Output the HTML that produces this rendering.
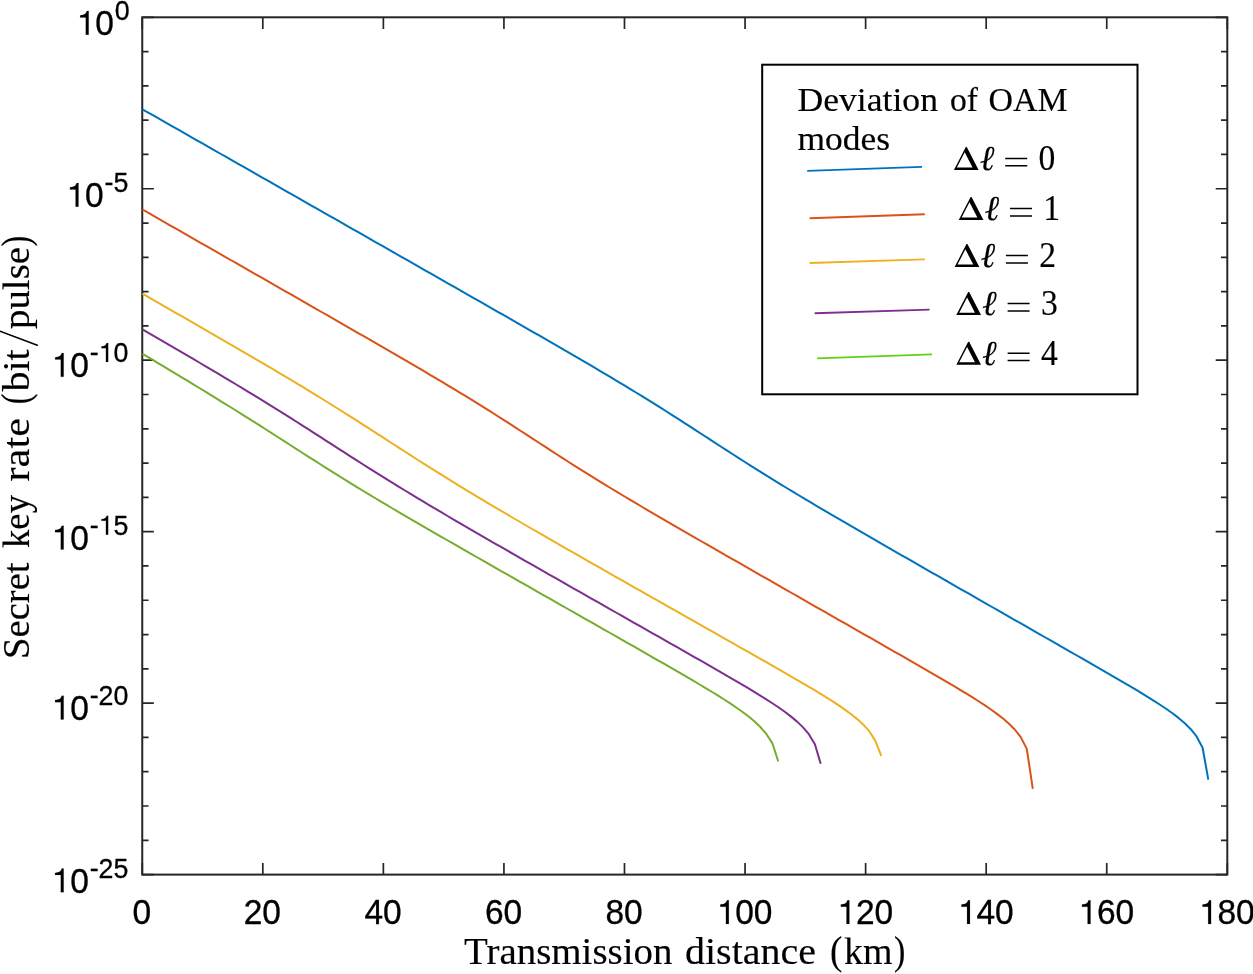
<!DOCTYPE html>
<html><head><meta charset="utf-8"><title>Secret key rate vs transmission distance</title>
<style>html,body{margin:0;padding:0;background:#fff}svg{display:block;will-change:transform}text{font-family:"Liberation Sans",sans-serif;fill:#000;stroke:#000;stroke-width:.3px}.s{font-family:"Liberation Serif",serif;fill:#000;stroke-width:.15px}</style></head><body>
<svg width="1253" height="974" viewBox="0 0 1253 974">
<rect width="1253" height="974" fill="#fff"/>
<path d="M142.25 874.60v-11.60M142.25 17.30v11.60M262.81 874.60v-11.60M262.81 17.30v11.60M383.37 874.60v-11.60M383.37 17.30v11.60M503.93 874.60v-11.60M503.93 17.30v11.60M624.49 874.60v-11.60M624.49 17.30v11.60M745.06 874.60v-11.60M745.06 17.30v11.60M865.62 874.60v-11.60M865.62 17.30v11.60M986.18 874.60v-11.60M986.18 17.30v11.60M1106.74 874.60v-11.60M1106.74 17.30v11.60M1227.30 874.60v-11.60M1227.30 17.30v11.60M142.25 17.30h11.60M1227.30 17.30h-11.60M142.25 51.59h6.30M1227.30 51.59h-6.30M142.25 85.88h6.30M1227.30 85.88h-6.30M142.25 120.18h6.30M1227.30 120.18h-6.30M142.25 154.47h6.30M1227.30 154.47h-6.30M142.25 188.76h11.60M1227.30 188.76h-11.60M142.25 223.05h6.30M1227.30 223.05h-6.30M142.25 257.34h6.30M1227.30 257.34h-6.30M142.25 291.64h6.30M1227.30 291.64h-6.30M142.25 325.93h6.30M1227.30 325.93h-6.30M142.25 360.22h11.60M1227.30 360.22h-11.60M142.25 394.51h6.30M1227.30 394.51h-6.30M142.25 428.80h6.30M1227.30 428.80h-6.30M142.25 463.10h6.30M1227.30 463.10h-6.30M142.25 497.39h6.30M1227.30 497.39h-6.30M142.25 531.68h11.60M1227.30 531.68h-11.60M142.25 565.97h6.30M1227.30 565.97h-6.30M142.25 600.26h6.30M1227.30 600.26h-6.30M142.25 634.56h6.30M1227.30 634.56h-6.30M142.25 668.85h6.30M1227.30 668.85h-6.30M142.25 703.14h11.60M1227.30 703.14h-11.60M142.25 737.43h6.30M1227.30 737.43h-6.30M142.25 771.72h6.30M1227.30 771.72h-6.30M142.25 806.02h6.30M1227.30 806.02h-6.30M142.25 840.31h6.30M1227.30 840.31h-6.30M142.25 874.60h11.60M1227.30 874.60h-11.60" stroke="#262626" stroke-width="1.70" fill="none"/>
<rect x="142.25" y="17.30" width="1085.05" height="857.30" fill="none" stroke="#262626" stroke-width="2.00"/>
<path d="M142.40 109.26 L147.73 112.30 L153.76 115.73 L159.79 119.17 L165.82 122.60 L171.85 126.03 L177.87 129.47 L183.90 132.90 L189.93 136.33 L195.96 139.77 L201.99 143.20 L208.01 146.63 L214.04 150.07 L220.07 153.50 L226.10 156.94 L232.12 160.37 L238.15 163.80 L244.18 167.24 L250.21 170.67 L256.24 174.10 L262.26 177.54 L268.29 180.97 L274.32 184.40 L280.35 187.84 L286.37 191.27 L292.40 194.71 L298.43 198.14 L304.46 201.57 L310.49 205.01 L316.51 208.44 L322.54 211.87 L328.57 215.31 L334.60 218.74 L340.62 222.18 L346.65 225.61 L352.68 229.04 L358.71 232.48 L364.74 235.91 L370.76 239.35 L376.79 242.78 L382.82 246.21 L388.85 249.65 L394.87 253.08 L400.90 256.52 L406.93 259.95 L412.96 263.39 L418.99 266.82 L425.01 270.26 L431.04 273.70 L437.07 277.13 L443.10 280.57 L449.12 284.01 L455.15 287.45 L461.18 290.88 L467.21 294.32 L473.24 297.76 L479.26 301.21 L485.29 304.65 L491.32 308.09 L497.35 311.54 L503.38 314.98 L509.40 318.43 L515.43 321.89 L521.46 325.34 L527.49 328.80 L533.51 332.26 L539.54 335.73 L545.57 339.20 L551.60 342.67 L557.63 346.15 L563.65 349.64 L569.68 353.14 L575.71 356.65 L581.74 360.16 L587.76 363.69 L593.79 367.23 L599.82 370.78 L605.85 374.35 L611.88 377.94 L617.90 381.55 L623.93 385.17 L629.96 388.82 L635.99 392.50 L642.01 396.20 L648.04 399.92 L654.07 403.67 L660.10 407.45 L666.13 411.25 L672.15 415.08 L678.18 418.93 L684.21 422.80 L690.24 426.69 L696.26 430.59 L702.29 434.50 L708.32 438.42 L714.35 442.33 L720.38 446.25 L726.40 450.15 L732.43 454.03 L738.46 457.90 L744.49 461.75 L750.51 465.57 L756.54 469.37 L762.57 473.15 L768.60 476.89 L774.63 480.62 L780.65 484.31 L786.68 487.98 L792.71 491.63 L798.74 495.26 L804.77 498.87 L810.79 502.46 L816.82 506.03 L822.85 509.59 L828.88 513.13 L834.90 516.66 L840.93 520.18 L846.96 523.69 L852.99 527.20 L859.02 530.69 L865.04 534.18 L871.07 537.66 L877.10 541.14 L883.13 544.61 L889.15 548.08 L895.18 551.54 L901.21 555.01 L907.24 558.47 L913.27 561.92 L919.29 565.38 L925.32 568.83 L931.35 572.28 L937.38 575.73 L943.40 579.18 L949.43 582.63 L955.46 586.08 L961.49 589.53 L967.52 592.97 L973.54 596.42 L979.57 599.86 L985.60 603.31 L991.63 606.75 L997.65 610.20 L1003.68 613.64 L1009.71 617.09 L1015.74 620.53 L1021.77 623.97 L1027.79 627.42 L1033.82 630.86 L1039.85 634.31 L1045.88 637.75 L1051.90 641.20 L1057.93 644.65 L1063.96 648.09 L1069.99 651.54 L1076.02 655.00 L1082.04 658.45 L1088.07 661.91 L1094.10 665.37 L1100.13 668.84 L1106.16 672.32 L1112.18 675.81 L1118.21 679.32 L1124.24 682.84 L1130.27 686.39 L1136.29 689.98 L1142.32 693.61 L1148.35 697.30 L1154.38 701.08 L1160.41 704.97 L1166.43 709.02 L1172.46 713.29 L1178.49 717.90 L1184.52 723.01 L1190.54 728.95 L1196.57 736.46 L1202.60 747.70 L1208.30 779.60" fill="none" stroke="#0072BD" stroke-width="2.00" stroke-linejoin="round"/>
<path d="M142.40 209.50 L146.74 211.98 L152.77 215.43 L158.80 218.88 L164.82 222.32 L170.85 225.77 L176.88 229.22 L182.91 232.67 L188.94 236.11 L194.96 239.56 L200.99 243.01 L207.02 246.45 L213.05 249.90 L219.07 253.35 L225.10 256.80 L231.13 260.25 L237.16 263.69 L243.19 267.14 L249.21 270.59 L255.24 274.04 L261.27 277.49 L267.30 280.94 L273.32 284.39 L279.35 287.83 L285.38 291.28 L291.41 294.74 L297.44 298.19 L303.46 301.64 L309.49 305.09 L315.52 308.54 L321.55 312.00 L327.58 315.45 L333.60 318.91 L339.63 322.37 L345.66 325.83 L351.69 329.29 L357.71 332.76 L363.74 336.23 L369.77 339.70 L375.80 343.17 L381.83 346.65 L387.85 350.14 L393.88 353.63 L399.91 357.13 L405.94 360.64 L411.96 364.15 L417.99 367.68 L424.02 371.22 L430.05 374.77 L436.08 378.34 L442.10 381.92 L448.13 385.53 L454.16 389.15 L460.19 392.80 L466.21 396.47 L472.24 400.17 L478.27 403.90 L484.30 407.65 L490.33 411.43 L496.35 415.24 L502.38 419.08 L508.41 422.94 L514.44 426.83 L520.46 430.73 L526.49 434.65 L532.52 438.57 L538.55 442.50 L544.58 446.43 L550.60 450.34 L556.63 454.25 L562.66 458.13 L568.69 461.99 L574.71 465.83 L580.74 469.64 L586.77 473.42 L592.80 477.17 L598.83 480.89 L604.85 484.58 L610.88 488.25 L616.91 491.89 L622.94 495.51 L628.97 499.11 L634.99 502.69 L641.02 506.25 L647.05 509.80 L653.08 513.33 L659.10 516.85 L665.13 520.36 L671.16 523.86 L677.19 527.35 L683.22 530.84 L689.24 534.31 L695.27 537.79 L701.30 541.25 L707.33 544.72 L713.35 548.18 L719.38 551.64 L725.41 555.09 L731.44 558.54 L737.47 561.99 L743.49 565.44 L749.52 568.89 L755.55 572.34 L761.58 575.78 L767.60 579.23 L773.63 582.67 L779.66 586.11 L785.69 589.56 L791.72 593.00 L797.74 596.44 L803.77 599.88 L809.80 603.32 L815.83 606.76 L821.85 610.20 L827.88 613.64 L833.91 617.08 L839.94 620.53 L845.97 623.97 L851.99 627.41 L858.02 630.85 L864.05 634.29 L870.08 637.73 L876.11 641.18 L882.13 644.62 L888.16 648.07 L894.19 651.52 L900.22 654.97 L906.24 658.43 L912.27 661.89 L918.30 665.36 L924.33 668.83 L930.36 672.32 L936.38 675.81 L942.41 679.33 L948.44 682.87 L954.47 686.44 L960.49 690.04 L966.52 693.70 L972.55 697.42 L978.58 701.24 L984.61 705.17 L990.63 709.27 L996.66 713.60 L1002.69 718.27 L1008.72 723.46 L1014.74 729.50 L1020.77 737.13 L1026.80 748.90 L1032.80 788.80" fill="none" stroke="#D95319" stroke-width="2.00" stroke-linejoin="round"/>
<path d="M142.40 293.72 L145.94 295.74 L151.96 299.19 L157.99 302.65 L164.02 306.10 L170.05 309.56 L176.08 313.01 L182.10 316.47 L188.13 319.94 L194.16 323.40 L200.19 326.87 L206.21 330.34 L212.24 333.82 L218.27 337.30 L224.30 340.78 L230.33 344.28 L236.35 347.77 L242.38 351.28 L248.41 354.79 L254.44 358.32 L260.46 361.85 L266.49 365.39 L272.52 368.95 L278.55 372.52 L284.58 376.11 L290.60 379.71 L296.63 383.33 L302.66 386.97 L308.69 390.63 L314.71 394.31 L320.74 398.01 L326.77 401.74 L332.80 405.48 L338.83 409.26 L344.85 413.05 L350.88 416.87 L356.91 420.70 L362.94 424.55 L368.96 428.42 L374.99 432.30 L381.02 436.19 L387.05 440.09 L393.08 443.98 L399.10 447.87 L405.13 451.75 L411.16 455.62 L417.19 459.48 L423.21 463.32 L429.24 467.14 L435.27 470.93 L441.30 474.71 L447.33 478.46 L453.35 482.18 L459.38 485.88 L465.41 489.56 L471.44 493.21 L477.47 496.84 L483.49 500.45 L489.52 504.05 L495.55 507.62 L501.58 511.17 L507.60 514.72 L513.63 518.24 L519.66 521.76 L525.69 525.26 L531.72 528.75 L537.74 532.23 L543.77 535.71 L549.80 539.17 L555.83 542.64 L561.85 546.09 L567.88 549.54 L573.91 552.98 L579.94 556.43 L585.97 559.86 L591.99 563.30 L598.02 566.73 L604.05 570.16 L610.08 573.58 L616.10 577.01 L622.13 580.43 L628.16 583.85 L634.19 587.27 L640.22 590.69 L646.24 594.11 L652.27 597.53 L658.30 600.94 L664.33 604.36 L670.35 607.78 L676.38 611.19 L682.41 614.61 L688.44 618.02 L694.47 621.44 L700.49 624.85 L706.52 628.26 L712.55 631.68 L718.58 635.10 L724.61 638.51 L730.63 641.93 L736.66 645.35 L742.69 648.77 L748.72 652.19 L754.74 655.62 L760.77 659.05 L766.80 662.48 L772.83 665.92 L778.86 669.37 L784.88 672.83 L790.91 676.31 L796.94 679.81 L802.97 683.33 L808.99 686.88 L815.02 690.48 L821.05 694.13 L827.08 697.86 L833.11 701.69 L839.13 705.66 L845.16 709.82 L851.19 714.26 L857.22 719.10 L863.24 724.59 L869.27 731.19 L875.30 740.90 L881.30 755.80" fill="none" stroke="#EDB120" stroke-width="2.00" stroke-linejoin="round"/>
<path d="M142.40 329.42 L145.81 331.39 L151.84 334.88 L157.87 338.37 L163.90 341.87 L169.93 345.38 L175.95 348.89 L181.98 352.40 L188.01 355.93 L194.04 359.46 L200.06 363.00 L206.09 366.55 L212.12 370.11 L218.15 373.69 L224.18 377.28 L230.20 380.88 L236.23 384.50 L242.26 388.14 L248.29 391.80 L254.31 395.47 L260.34 399.17 L266.37 402.88 L272.40 406.62 L278.43 410.38 L284.45 414.16 L290.48 417.95 L296.51 421.77 L302.54 425.60 L308.56 429.45 L314.59 433.31 L320.62 437.18 L326.65 441.06 L332.68 444.94 L338.70 448.81 L344.73 452.68 L350.76 456.55 L356.79 460.40 L362.81 464.23 L368.84 468.05 L374.87 471.84 L380.90 475.62 L386.93 479.37 L392.95 483.11 L398.98 486.82 L405.01 490.50 L411.04 494.17 L417.07 497.81 L423.09 501.43 L429.12 505.03 L435.15 508.62 L441.18 512.19 L447.20 515.74 L453.23 519.28 L459.26 522.81 L465.29 526.32 L471.32 529.83 L477.34 533.32 L483.37 536.81 L489.40 540.29 L495.43 543.76 L501.45 547.22 L507.48 550.68 L513.51 554.14 L519.54 557.59 L525.57 561.04 L531.59 564.48 L537.62 567.92 L543.65 571.36 L549.68 574.80 L555.70 578.23 L561.73 581.66 L567.76 585.09 L573.79 588.52 L579.82 591.95 L585.84 595.37 L591.87 598.80 L597.90 602.23 L603.93 605.65 L609.95 609.07 L615.98 612.50 L622.01 615.92 L628.04 619.34 L634.07 622.77 L640.09 626.19 L646.12 629.61 L652.15 633.03 L658.18 636.46 L664.20 639.88 L670.23 643.31 L676.26 646.74 L682.29 650.17 L688.32 653.60 L694.34 657.04 L700.37 660.48 L706.40 663.93 L712.43 667.39 L718.46 670.85 L724.48 674.33 L730.51 677.83 L736.54 681.35 L742.57 684.90 L748.59 688.48 L754.62 692.11 L760.65 695.81 L766.68 699.59 L772.71 703.49 L778.73 707.54 L784.76 711.80 L790.79 716.37 L796.82 721.39 L802.84 727.15 L808.87 734.22 L814.90 744.20 L820.70 763.80" fill="none" stroke="#7E2F8E" stroke-width="2.00" stroke-linejoin="round"/>
<path d="M142.40 353.74 L145.51 355.59 L151.54 359.20 L157.56 362.80 L163.59 366.42 L169.62 370.04 L175.65 373.66 L181.68 377.30 L187.70 380.94 L193.73 384.59 L199.76 388.25 L205.79 391.92 L211.81 395.61 L217.84 399.31 L223.87 403.03 L229.90 406.76 L235.93 410.51 L241.95 414.28 L247.98 418.07 L254.01 421.87 L260.04 425.70 L266.06 429.53 L272.09 433.38 L278.12 437.25 L284.15 441.12 L290.18 444.99 L296.20 448.86 L302.23 452.74 L308.26 456.60 L314.29 460.45 L320.31 464.28 L326.34 468.10 L332.37 471.89 L338.40 475.66 L344.43 479.40 L350.45 483.12 L356.48 486.82 L362.51 490.48 L368.54 494.13 L374.57 497.75 L380.59 501.35 L386.62 504.93 L392.65 508.49 L398.68 512.04 L404.70 515.57 L410.73 519.09 L416.76 522.60 L422.79 526.09 L428.82 529.58 L434.84 533.06 L440.87 536.53 L446.90 540.00 L452.93 543.46 L458.95 546.91 L464.98 550.36 L471.01 553.81 L477.04 557.25 L483.07 560.70 L489.09 564.14 L495.12 567.57 L501.15 571.01 L507.18 574.45 L513.20 577.88 L519.23 581.31 L525.26 584.74 L531.29 588.17 L537.32 591.60 L543.34 595.03 L549.37 598.46 L555.40 601.89 L561.43 605.32 L567.45 608.75 L573.48 612.18 L579.51 615.60 L585.54 619.03 L591.57 622.46 L597.59 625.89 L603.62 629.32 L609.65 632.75 L615.68 636.18 L621.70 639.61 L627.73 643.05 L633.76 646.48 L639.79 649.92 L645.82 653.36 L651.84 656.81 L657.87 660.26 L663.90 663.72 L669.93 667.18 L675.96 670.66 L681.98 674.15 L688.01 677.66 L694.04 681.19 L700.07 684.75 L706.09 688.35 L712.12 691.99 L718.15 695.70 L724.18 699.50 L730.21 703.40 L736.23 707.46 L742.26 711.73 L748.29 716.29 L754.32 721.30 L760.34 727.01 L766.37 733.94 L772.40 743.40 L778.30 761.50" fill="none" stroke="#77AC30" stroke-width="2.00" stroke-linejoin="round"/>
<text transform="translate(132.54 924.25) scale(1 1.065)" font-size="33.50">0</text>
<text transform="translate(243.83 924.25) scale(1 1.065)" font-size="33.50">2</text><text transform="translate(262.36 924.25) scale(1 1.065)" font-size="33.50">0</text>
<text transform="translate(364.39 924.25) scale(1 1.065)" font-size="33.50">4</text><text transform="translate(382.93 924.25) scale(1 1.065)" font-size="33.50">0</text>
<text transform="translate(484.96 924.25) scale(1 1.065)" font-size="33.50">6</text><text transform="translate(503.49 924.25) scale(1 1.065)" font-size="33.50">0</text>
<text transform="translate(605.52 924.25) scale(1 1.065)" font-size="33.50">8</text><text transform="translate(624.05 924.25) scale(1 1.065)" font-size="33.50">0</text>
<path d="M.359 0V-.709H.301C.288-.655 .262-.595 .102-.579V-.516H.272V0Z" stroke="#000" stroke-width=".004" transform="translate(716.86 924.00) scale(33.330 33.497)"/><text transform="translate(735.34 924.25) scale(1 1.065)" font-size="33.50">0</text><text transform="translate(753.87 924.25) scale(1 1.065)" font-size="33.50">0</text>
<path d="M.359 0V-.709H.301C.288-.655 .262-.595 .102-.579V-.516H.272V0Z" stroke="#000" stroke-width=".004" transform="translate(837.42 924.00) scale(33.330 33.497)"/><text transform="translate(855.90 924.25) scale(1 1.065)" font-size="33.50">2</text><text transform="translate(874.44 924.25) scale(1 1.065)" font-size="33.50">0</text>
<path d="M.359 0V-.709H.301C.288-.655 .262-.595 .102-.579V-.516H.272V0Z" stroke="#000" stroke-width=".004" transform="translate(957.98 924.00) scale(33.330 33.497)"/><text transform="translate(976.47 924.25) scale(1 1.065)" font-size="33.50">4</text><text transform="translate(995.00 924.25) scale(1 1.065)" font-size="33.50">0</text>
<path d="M.359 0V-.709H.301C.288-.655 .262-.595 .102-.579V-.516H.272V0Z" stroke="#000" stroke-width=".004" transform="translate(1078.54 924.00) scale(33.330 33.497)"/><text transform="translate(1097.03 924.25) scale(1 1.065)" font-size="33.50">6</text><text transform="translate(1115.56 924.25) scale(1 1.065)" font-size="33.50">0</text>
<path d="M.359 0V-.709H.301C.288-.655 .262-.595 .102-.579V-.516H.272V0Z" stroke="#000" stroke-width=".004" transform="translate(1199.10 924.00) scale(33.330 33.497)"/><text transform="translate(1217.59 924.25) scale(1 1.065)" font-size="33.50">8</text><text transform="translate(1236.12 924.25) scale(1 1.065)" font-size="33.50">0</text>
<path d="M.359 0V-.709H.301C.288-.655 .262-.595 .102-.579V-.516H.272V0Z" stroke="#000" stroke-width=".004" transform="translate(76.71 34.80) scale(33.330 33.497)"/><text transform="translate(95.19 35.05) scale(1 1.065)" font-size="33.50">0</text>
<text transform="translate(114.73 20.25) scale(1 1.065)" font-size="26.80">0</text>
<path d="M.359 0V-.709H.301C.288-.655 .262-.595 .102-.579V-.516H.272V0Z" stroke="#000" stroke-width=".004" transform="translate(66.53 206.80) scale(33.330 33.497)"/><text transform="translate(85.01 207.05) scale(1 1.065)" font-size="33.50">0</text>
<text x="104.57" y="191.40" font-size="26.80">-</text><text transform="translate(113.43 192.25) scale(1 1.065)" font-size="26.80">5</text>
<path d="M.359 0V-.709H.301C.288-.655 .262-.595 .102-.579V-.516H.272V0Z" stroke="#000" stroke-width=".004" transform="translate(51.70 376.80) scale(33.330 33.497)"/><text transform="translate(70.18 377.05) scale(1 1.065)" font-size="33.50">0</text>
<text x="89.74" y="361.40" font-size="26.80">-</text><path d="M.359 0V-.709H.301C.288-.655 .262-.595 .102-.579V-.516H.272V0Z" stroke="#000" stroke-width=".004" transform="translate(98.64 362.00) scale(26.670 26.803)"/><text transform="translate(113.43 362.25) scale(1 1.065)" font-size="26.80">0</text>
<path d="M.359 0V-.709H.301C.288-.655 .262-.595 .102-.579V-.516H.272V0Z" stroke="#000" stroke-width=".004" transform="translate(51.70 549.50) scale(33.330 33.497)"/><text transform="translate(70.18 549.75) scale(1 1.065)" font-size="33.50">0</text>
<text x="89.74" y="534.10" font-size="26.80">-</text><path d="M.359 0V-.709H.301C.288-.655 .262-.595 .102-.579V-.516H.272V0Z" stroke="#000" stroke-width=".004" transform="translate(98.64 534.70) scale(26.670 26.803)"/><text transform="translate(113.43 534.95) scale(1 1.065)" font-size="26.80">5</text>
<path d="M.359 0V-.709H.301C.288-.655 .262-.595 .102-.579V-.516H.272V0Z" stroke="#000" stroke-width=".004" transform="translate(51.70 719.50) scale(33.330 33.497)"/><text transform="translate(70.18 719.75) scale(1 1.065)" font-size="33.50">0</text>
<text x="89.74" y="704.10" font-size="26.80">-</text><text transform="translate(98.61 704.95) scale(1 1.065)" font-size="26.80">2</text><text transform="translate(113.43 704.95) scale(1 1.065)" font-size="26.80">0</text>
<path d="M.359 0V-.709H.301C.288-.655 .262-.595 .102-.579V-.516H.272V0Z" stroke="#000" stroke-width=".004" transform="translate(51.70 892.30) scale(33.330 33.497)"/><text transform="translate(70.18 892.55) scale(1 1.065)" font-size="33.50">0</text>
<text x="89.74" y="876.90" font-size="26.80">-</text><text transform="translate(98.61 877.75) scale(1 1.065)" font-size="26.80">2</text><text transform="translate(113.43 877.75) scale(1 1.065)" font-size="26.80">5</text>
<rect x="762.2" y="64.7" width="375.3" height="329.6" fill="#fff" stroke="#000" stroke-width="2"/>
<text class="s w" id="x1" x="464.00" y="964.40" font-size="37.30" textLength="208.50" lengthAdjust="spacingAndGlyphs">Transmission</text>
<text class="s w" id="x2" x="685.00" y="964.40" font-size="37.30" textLength="131.03" lengthAdjust="spacingAndGlyphs">distance</text>
<text class="s w" id="x3" x="830.00" y="964.40" font-size="40.60" textLength="12.35" lengthAdjust="spacingAndGlyphs">(</text>
<text class="s w" id="x4" x="844.00" y="964.40" font-size="37.30" textLength="48.51" lengthAdjust="spacingAndGlyphs">km</text>
<text class="s w" id="x5" x="894.00" y="964.40" font-size="40.60" textLength="11.32" lengthAdjust="spacingAndGlyphs">)</text>
<text class="s w" id="y1" transform="translate(28.70 656.40) rotate(-90)" x="-2.60" font-size="37.30" textLength="96.56" lengthAdjust="spacingAndGlyphs">Secret</text>
<text class="s w" id="y2" transform="translate(28.70 656.40) rotate(-90)" x="108.40" font-size="37.30" textLength="53.01" lengthAdjust="spacingAndGlyphs">key</text>
<text class="s w" id="y3" transform="translate(28.70 656.40) rotate(-90)" x="174.90" font-size="37.30" textLength="63.53" lengthAdjust="spacingAndGlyphs">rate</text>
<text class="s w" id="y4" transform="translate(28.70 656.40) rotate(-90)" x="252.40" font-size="40.60" textLength="10.12" lengthAdjust="spacingAndGlyphs">(</text>
<text class="s w" id="y5" transform="translate(28.70 656.40) rotate(-90)" x="264.90" font-size="37.30" textLength="42.01" lengthAdjust="spacingAndGlyphs">bit</text>
<text class="s w" id="y7" transform="translate(28.70 656.40) rotate(-90)" x="327.40" font-size="37.30" textLength="82.03" lengthAdjust="spacingAndGlyphs">pulse</text>
<text class="s w" id="y6" transform="translate(28.70 656.40) rotate(-90)" x="409.90" font-size="40.60" textLength="10.75" lengthAdjust="spacingAndGlyphs">)</text>
<text class="s w" id="l1" x="797.50" y="110.50" font-size="33.80" textLength="140.51" lengthAdjust="spacingAndGlyphs">Deviation</text>
<text class="s w" id="l2" x="950.00" y="110.50" font-size="33.80" textLength="28.01" lengthAdjust="spacingAndGlyphs">of</text>
<text class="s w" id="l3" x="988.50" y="110.50" font-size="33.80" textLength="79.02" lengthAdjust="spacingAndGlyphs">OAM</text>
<text class="s w" id="l4" x="797.50" y="150.00" font-size="33.80" textLength="92.53" lengthAdjust="spacingAndGlyphs">modes</text>
<path d="M37.3 345.3L0 331.1" stroke="#000" stroke-width="1.5" stroke-linecap="round"/>
<line x1="807.2" y1="170.9" x2="922.1" y2="166.9" stroke="#0072BD" stroke-width="1.9"/>
<path d="M.046 0L.402-.69H.431L.787 0ZM.133-.072H.605L.369-.529Z" fill-rule="evenodd" transform="translate(952.40 169.90) scale(33.33)"/>
<text class="s" x="979.96" y="170.20" font-size="35" font-style="italic">ℓ</text>
<path d="M1005.20 158.40h22M1005.20 165.80h22" stroke="#000" stroke-width="1.5"/>
<text class="s" transform="translate(1038.50 170.20) scale(1 1.04)" font-size="33.6">0</text>
<line x1="809.6" y1="218.3" x2="924.8" y2="214.3" stroke="#D95319" stroke-width="1.9"/>
<path d="M.046 0L.402-.69H.431L.787 0ZM.133-.072H.605L.369-.529Z" fill-rule="evenodd" transform="translate(957.20 220.00) scale(33.33)"/>
<text class="s" x="984.76" y="220.30" font-size="35" font-style="italic">ℓ</text>
<path d="M1010.00 208.50h22M1010.00 215.90h22" stroke="#000" stroke-width="1.5"/>
<text class="s" transform="translate(1043.30 220.30) scale(1 1.04)" font-size="33.6">1</text>
<line x1="809.6" y1="263.0" x2="924.8" y2="259.4" stroke="#EDB120" stroke-width="1.9"/>
<path d="M.046 0L.402-.69H.431L.787 0ZM.133-.072H.605L.369-.529Z" fill-rule="evenodd" transform="translate(953.10 267.00) scale(33.33)"/>
<text class="s" x="980.66" y="267.30" font-size="35" font-style="italic">ℓ</text>
<path d="M1005.90 255.50h22M1005.90 262.90h22" stroke="#000" stroke-width="1.5"/>
<text class="s" transform="translate(1039.20 267.30) scale(1 1.04)" font-size="33.6">2</text>
<line x1="814.7" y1="313.2" x2="929.6" y2="309.6" stroke="#7E2F8E" stroke-width="1.9"/>
<path d="M.046 0L.402-.69H.431L.787 0ZM.133-.072H.605L.369-.529Z" fill-rule="evenodd" transform="translate(954.80 315.10) scale(33.33)"/>
<text class="s" x="982.36" y="315.40" font-size="35" font-style="italic">ℓ</text>
<path d="M1007.60 303.60h22M1007.60 311.00h22" stroke="#000" stroke-width="1.5"/>
<text class="s" transform="translate(1040.90 315.40) scale(1 1.04)" font-size="33.6">3</text>
<line x1="817.1" y1="358.4" x2="932.0" y2="354.4" stroke="#5FD30F" stroke-width="1.9"/>
<path d="M.046 0L.402-.69H.431L.787 0ZM.133-.072H.605L.369-.529Z" fill-rule="evenodd" transform="translate(954.80 364.70) scale(33.33)"/>
<text class="s" x="982.36" y="365.00" font-size="35" font-style="italic">ℓ</text>
<path d="M1007.60 353.20h22M1007.60 360.60h22" stroke="#000" stroke-width="1.5"/>
<text class="s" transform="translate(1040.90 365.00) scale(1 1.04)" font-size="33.6">4</text>
</svg></body></html>
